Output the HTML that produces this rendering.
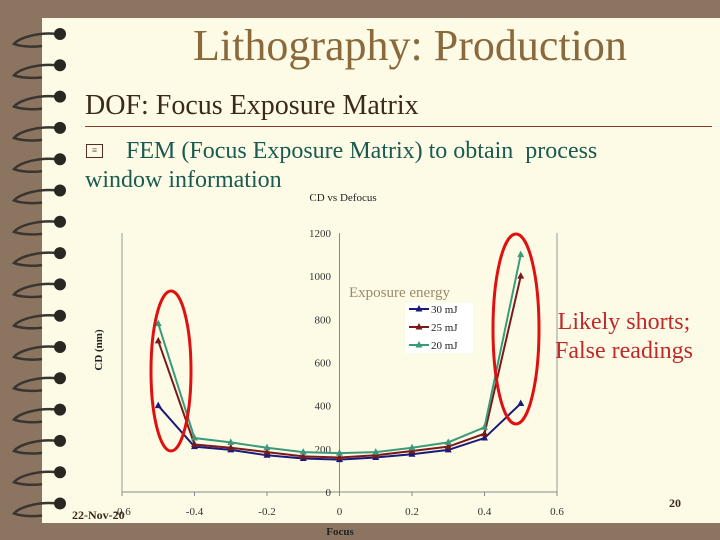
<!DOCTYPE html>
<html><head><meta charset="utf-8"><style>
body{margin:0;width:720px;height:540px;overflow:hidden;background:#8b7560;font-family:"Liberation Serif",serif;}
#page{position:absolute;left:42px;top:18px;width:678px;height:505px;background:#fdfbe6;}
.t{position:absolute;white-space:nowrap;}
</style></head><body>
<div id="page"></div>
<svg width="720" height="540" style="position:absolute;left:0;top:0">
<g id="rings"></g>
</svg>
<div class="t" style="left:193px;top:20px;font-size:44px;color:#8a6a3c;">Lithography: Production</div>
<div class="t" style="left:85px;top:90px;font-size:28px;color:#3a2a1a;">DOF: Focus Exposure Matrix</div>
<div style="position:absolute;left:85px;top:126px;width:627px;height:1px;background:#8b3a2a;"></div>
<div style="position:absolute;left:86px;top:144px;width:15px;height:12px;border:1px solid #5a2a2a;font-size:9px;line-height:11px;text-align:center;color:#5a2a2a">≡</div>
<div class="t" style="left:126px;top:137px;font-size:24px;line-height:29px;color:#1a5a50;">FEM (Focus Exposure Matrix) to obtain &nbsp;process</div>
<div class="t" style="left:85px;top:166px;font-size:24px;line-height:29px;color:#1a5a50;">window information</div>
<svg id="chart" width="720" height="540" style="position:absolute;left:0;top:0"></svg>
<div class="t" style="left:555px;top:308px;font-size:24px;line-height:29px;color:#c0282a;text-align:center;">Likely shorts;<br>False readings</div>
<div class="t" style="left:669px;top:496px;font-size:12px;font-weight:bold;color:#3a2a1a;">20</div>
<div class="t" style="left:72px;top:508px;font-size:12px;font-weight:bold;color:#3a2a1a;">22-Nov-20</div>
<script>
const categories=[-0.5,-0.4,-0.3,-0.2,-0.1,0,0.1,0.2,0.3,0.4,0.5];
const s30=[400,210,195,170,155,150,160,175,195,250,410];
const s25=[700,220,205,185,165,160,170,190,210,270,1000];
const s20=[780,250,230,205,185,180,185,205,230,300,1100];
const yTicks=[0,200,400,600,800,1000,1200];
const xTicks=[-0.6,-0.4,-0.2,0,0.2,0.4,0.6];
const xTickLabels=["-0.6","-0.4","-0.2","0","0.2","0.4","0.6"];
const NS="http://www.w3.org/2000/svg";
const X=v=>122+(v+0.6)/1.2*435;
const Y=v=>492-v/1200*259;
const svg=document.getElementById('chart');
function mk(t,a,p){const e=document.createElementNS(NS,t);for(const k in a)e.setAttribute(k,a[k]);(p||svg).appendChild(e);return e;}
const rg=document.getElementById('rings');
for(let i=0;i<16;i++){const y=34+i*31.3;
 const a=mk('path',{d:`M57 ${y} C40 ${y-2} 20 ${y+3} 14 ${y+10} C22 ${y+13} 35 ${y+13} 42 ${y+12}`,fill:'none',stroke:'#3a3530','stroke-width':2.5},rg);
 
 const c=mk('circle',{cx:60,cy:y,r:6,fill:'#2a2622'},rg);
 }
let e;
e=mk('text',{x:343,y:201,'font-size':11,'text-anchor':'middle',fill:'#222','font-family':'Liberation Serif'});e.textContent='CD vs Defocus';

e=mk('line',{x1:122,y1:233,x2:122,y2:492,stroke:'#999'});
e=mk('line',{x1:557,y1:233,x2:557,y2:492,stroke:'#999'});
e=mk('line',{x1:122,y1:492,x2:557,y2:492,stroke:'#888'});
e=mk('line',{x1:X(0),y1:233,x2:X(0),y2:492,stroke:'#888'});
yTicks.forEach(v=>{const t=mk('text',{x:331,y:Y(v)+4,'font-size':11,'text-anchor':'end',fill:'#333','font-family':'Liberation Serif'});t.textContent=v;
 });
xTicks.forEach((v,i)=>{const t=mk('text',{x:X(v),y:515,'font-size':11,'text-anchor':'middle',fill:'#333','font-family':'Liberation Serif'});t.textContent=xTickLabels[i];
 
 const l=mk('line',{x1:X(v),y1:492,x2:X(v),y2:496,stroke:'#888'});});
e=mk('text',{x:340,y:535,'font-size':11,'font-weight':'bold','text-anchor':'middle',fill:'#222','font-family':'Liberation Serif'});e.textContent='Focus';

e=mk('text',{x:0,y:0,'font-size':11,'font-weight':'bold','text-anchor':'middle',fill:'#222','font-family':'Liberation Serif',transform:'translate(102,350) rotate(-90)'});e.textContent='CD (nm)';

const series=[[s30,'#1a1a7a','30 mJ'],[s25,'#7a1a1a','25 mJ'],[s20,'#3a9a7a','20 mJ']];
series.forEach(([d,c,n])=>{
 const p=mk('polyline',{points:d.map((v,i)=>X(categories[i])+','+Y(v)).join(' '),fill:'none',stroke:c,'stroke-width':2});
 
 d.forEach((v,i)=>{const x=X(categories[i]),y=Y(v);const m=mk('polygon',{points:`${x},${y-4} ${x-3.5},${y+2.5} ${x+3.5},${y+2.5}`,fill:c});
 });});
e=mk('rect',{x:405,y:303,width:68,height:50,fill:'#fff'});
series.forEach(([d,c,n],i)=>{const y=309+i*18;
 const l=mk('line',{x1:409,y1:y,x2:429,y2:y,stroke:c,'stroke-width':2});
 const m=mk('polygon',{points:`419,${y-4} 415.5,${y+2.5} 422.5,${y+2.5}`,fill:c});
 const t=mk('text',{x:431,y:y+4,'font-size':11,fill:'#222','font-family':'Liberation Serif'});t.textContent=n;
 });
e=mk('text',{x:349,y:297,'font-size':15,fill:'#9a8a6a','font-family':'Liberation Serif'});e.textContent='Exposure energy';

e=mk('ellipse',{cx:171,cy:371,rx:20,ry:80,fill:'none',stroke:'#e01010','stroke-width':3});
e=mk('ellipse',{cx:516,cy:329,rx:23,ry:95,fill:'none',stroke:'#e01010','stroke-width':3});
</script>
</body></html>
